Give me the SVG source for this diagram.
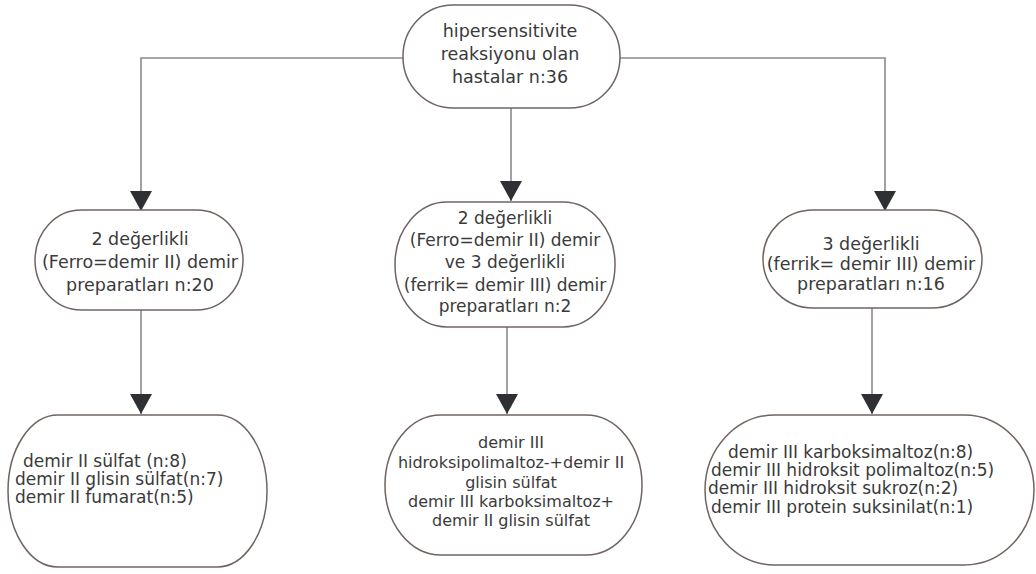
<svg xmlns="http://www.w3.org/2000/svg" width="1036" height="574" viewBox="0 0 1036 574">
<style>
.node rect{fill:#ffffff;stroke:#6f6560;stroke-width:1.5}
.node text{font-family:"DejaVu Sans",sans-serif;fill:#3a3a3a}
.c text{text-anchor:middle}
.conn{fill:none;stroke:#8a8a8a;stroke-width:1.6}
</style>
<defs>
<marker id="ah" markerUnits="userSpaceOnUse" markerWidth="22" markerHeight="22" viewBox="0 0 20 22" refX="20" refY="11" orient="auto">
<path d="M0,0 L20,11 L0,22 Z" fill="#2f3033"/>
</marker>
</defs>
<rect width="1036" height="574" fill="#ffffff"/>
<g id="connectors">
<path class="conn" d="M403,58 H141 V211" marker-end="url(#ah)"/>
<path class="conn" d="M620,58 H885 V211" marker-end="url(#ah)"/>
<path class="conn" d="M511,108 V201" marker-end="url(#ah)"/>
<path class="conn" d="M141,310 V414" marker-end="url(#ah)"/>
<path class="conn" d="M507,327 V414" marker-end="url(#ah)"/>
<path class="conn" d="M872,308 V414" marker-end="url(#ah)"/>
</g>
<g id="n-top" class="node c">
<rect x="403" y="5" width="217" height="103" rx="50" ry="51"/>
<text font-size="17.5"><tspan x="510" y="37">hipersensitivite</tspan><tspan x="510" y="60">reaksiyonu olan</tspan><tspan x="510" y="83">hastalar n:36</tspan></text>
</g>
<g id="n-ferro" class="node c">
<rect x="35" y="210" width="208" height="100" rx="46" ry="50"/>
<text font-size="17.5"><tspan x="140" y="245">2 değerlikli</tspan><tspan x="140" y="268">(Ferro=demir II) demir</tspan><tspan x="140" y="291">preparatları  n:20</tspan></text>
</g>
<g id="n-both" class="node c">
<rect x="395" y="202" width="220" height="125" rx="52" ry="62"/>
<text font-size="17"><tspan x="505" y="224">2 değerlikli</tspan><tspan x="505" y="246">(Ferro=demir II) demir</tspan><tspan x="505" y="268">ve 3 değerlikli</tspan><tspan x="505" y="291">(ferrik= demir III) demir</tspan><tspan x="505" y="312">preparatları  n:2</tspan></text>
</g>
<g id="n-ferrik" class="node c">
<rect x="763" y="210" width="219" height="98" rx="50" ry="49"/>
<text font-size="17.5"><tspan x="871" y="250">3 değerlikli</tspan><tspan x="871" y="270">(ferrik= demir III) demir</tspan><tspan x="871" y="290">preparatları n:16</tspan></text>
</g>
<g id="n-list1" class="node">
<rect x="8" y="415" width="259" height="152" rx="50" ry="76"/>
<text font-size="17"><tspan x="23" y="467">demir II sülfat (n:8)</tspan><tspan x="15" y="485">demir II glisin sülfat(n:7)</tspan><tspan x="15" y="503">demir II fumarat(n:5)</tspan></text>
</g>
<g id="n-list2" class="node c">
<rect x="385" y="415" width="257" height="140" rx="56" ry="70"/>
<text font-size="16"><tspan x="511" y="448">demir III</tspan><tspan x="511" y="468">hidroksipolimaltoz-+demir II</tspan><tspan x="511" y="488">glisin sülfat</tspan><tspan x="511" y="507">demir III karboksimaltoz+</tspan><tspan x="511" y="526">demir II glisin sülfat</tspan></text>
</g>
<g id="n-list3" class="node">
<rect x="705" y="415" width="329" height="150" rx="70" ry="75"/>
<text font-size="17"><tspan x="728" y="458">demir III karboksimaltoz(n:8)</tspan><tspan x="711" y="476">demir III hidroksit polimaltoz(n:5)</tspan><tspan x="708" y="494">demir III hidroksit sukroz(n:2)</tspan><tspan x="711" y="513">demir III protein suksinilat(n:1)</tspan></text>
</g>
</svg>
